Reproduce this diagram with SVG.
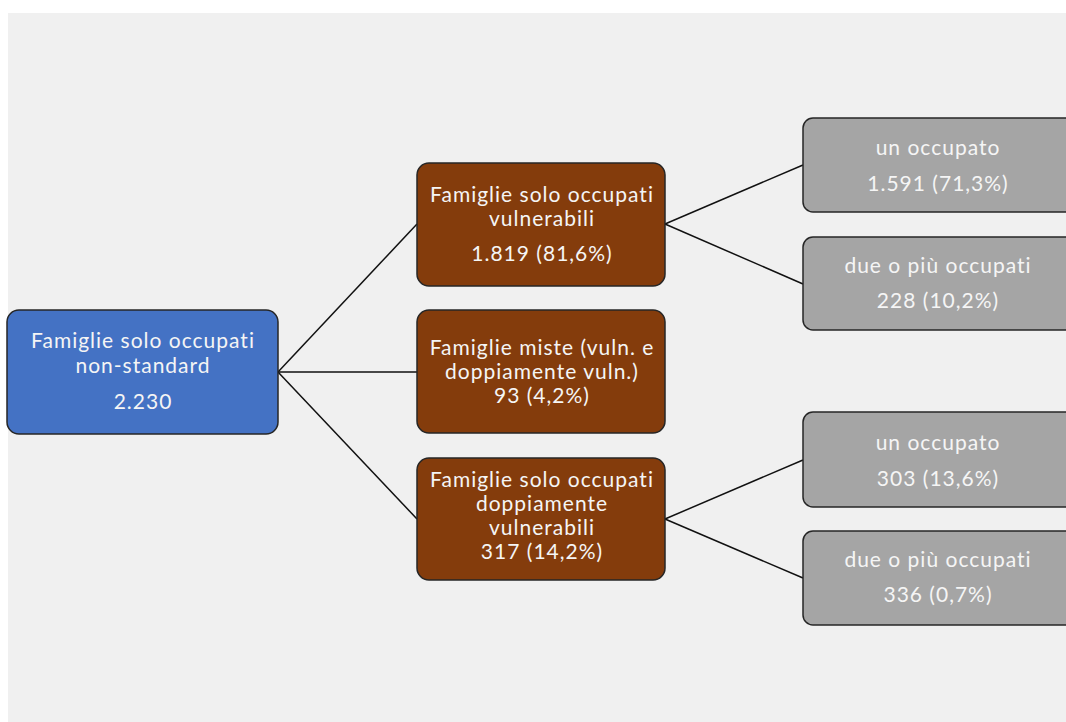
<svg xmlns="http://www.w3.org/2000/svg" width="1066" height="722" viewBox="0 0 1066 722">
<style>
.box{stroke:#262626;stroke-width:1.5}
.blue{fill:#4472c4}
.brown{fill:#843c0c}
.grey{fill:#a5a5a5}
.t{font-family:Lato,"Open Sans","Liberation Sans",sans-serif;font-size:21px;letter-spacing:1px;fill:#f5f5f5;text-anchor:middle}
.c{stroke:#111;stroke-width:1.5;fill:none}
</style>
<rect x="0" y="0" width="1066" height="722" fill="#ffffff"/>
<rect x="8" y="13" width="1058" height="709" fill="#f0f0f0"/>
<g id="connectors">
<line class="c" x1="278" y1="372" x2="417" y2="224"/>
<line class="c" x1="278" y1="372" x2="417" y2="372"/>
<line class="c" x1="278" y1="372" x2="417" y2="519"/>
<line class="c" x1="665" y1="224" x2="803" y2="165"/>
<line class="c" x1="665" y1="224" x2="803" y2="284"/>
<line class="c" x1="665" y1="519" x2="803" y2="460"/>
<line class="c" x1="665" y1="519" x2="803" y2="578"/>
</g>
<g id="root">
<rect class="box blue" x="7" y="310" width="271" height="124" rx="12"/>
<text class="t" x="143" y="348">Famiglie solo occupati</text>
<text class="t" x="143" y="373">non-standard</text>
<text class="t" x="143" y="409">2.230</text>
</g>
<g id="vuln">
<rect class="box brown" x="417" y="163" width="248" height="123" rx="12"/>
<text class="t" x="542" y="202">Famiglie solo occupati</text>
<text class="t" x="542" y="226">vulnerabili</text>
<text class="t" x="542" y="261">1.819 (81,6%)</text>
</g>
<g id="miste">
<rect class="box brown" x="417" y="310" width="248" height="123" rx="12"/>
<text class="t" x="542" y="355">Famiglie miste (vuln. e</text>
<text class="t" x="542" y="379">doppiamente vuln.)</text>
<text class="t" x="542" y="403">93 (4,2%)</text>
</g>
<g id="doppia">
<rect class="box brown" x="417" y="458" width="248" height="122" rx="12"/>
<text class="t" x="542" y="487">Famiglie solo occupati</text>
<text class="t" x="542" y="511">doppiamente</text>
<text class="t" x="542" y="535">vulnerabili</text>
<text class="t" x="542" y="559">317 (14,2%)</text>
</g>
<g id="vuln-uno">
<rect class="box grey" x="803" y="118" width="275" height="94" rx="10"/>
<text class="t" x="938" y="155">un occupato</text>
<text class="t" x="938" y="191">1.591 (71,3%)</text>
</g>
<g id="vuln-due">
<rect class="box grey" x="803" y="237" width="275" height="93" rx="10"/>
<text class="t" x="938" y="273">due o più occupati</text>
<text class="t" x="938" y="308">228 (10,2%)</text>
</g>
<g id="doppia-uno">
<rect class="box grey" x="803" y="412" width="275" height="95" rx="10"/>
<text class="t" x="938" y="450">un occupato</text>
<text class="t" x="938" y="486">303 (13,6%)</text>
</g>
<g id="doppia-due">
<rect class="box grey" x="803" y="531" width="275" height="94" rx="10"/>
<text class="t" x="938" y="567">due o più occupati</text>
<text class="t" x="938" y="602">336 (0,7%)</text>
</g>
</svg>
